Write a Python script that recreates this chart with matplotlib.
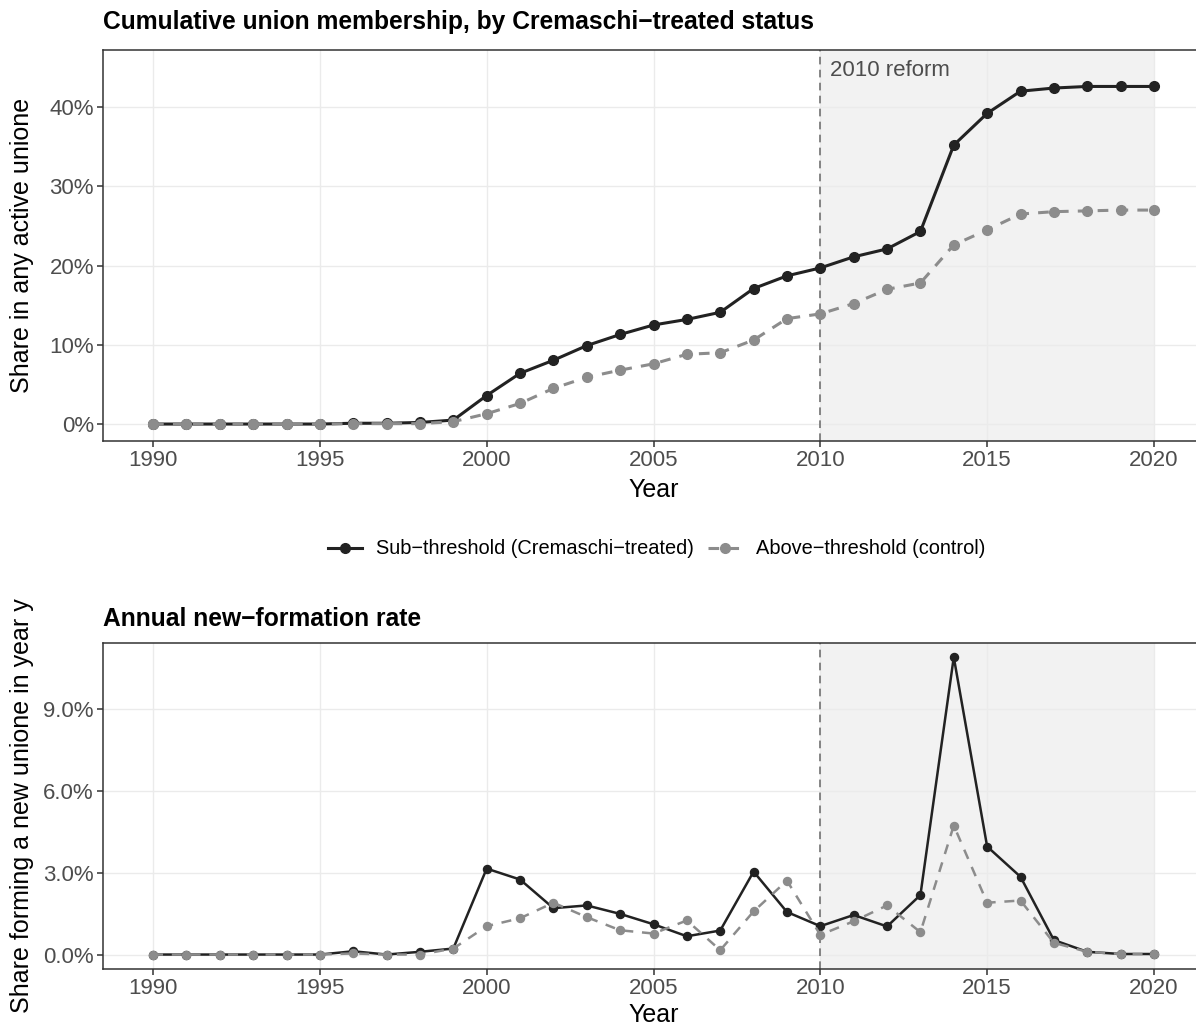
import matplotlib
matplotlib.use("Agg")
import matplotlib.pyplot as plt
from matplotlib.ticker import PercentFormatter
from matplotlib.lines import Line2D

plt.rcParams['font.family'] = ['Liberation Sans', 'DejaVu Sans']

years = list(range(1990, 2021))

# cumulative share in any active unione (%)
cum_treated = [0.0, 0.0, 0.0, 0.0, 0.0, 0.0, 0.1, 0.1, 0.2, 0.5,
               3.6, 6.4, 8.05, 9.9, 11.3, 12.5, 13.2, 14.1, 17.1, 18.7,
               19.7, 21.1, 22.1, 24.3, 35.2, 39.2, 42.0, 42.4, 42.6, 42.6, 42.6]
cum_control = [0.0, 0.0, 0.0, 0.0, 0.0, 0.0, 0.05, 0.05, 0.05, 0.3,
               1.3, 2.6, 4.5, 5.9, 6.8, 7.6, 8.8, 9.0, 10.6, 13.3,
               13.9, 15.2, 17.0, 17.8, 22.6, 24.5, 26.5, 26.8, 26.9, 27.0, 27.0]

# share forming a new unione in year y (%)
new_treated = [0.0, 0.0, 0.0, 0.0, 0.0, 0.0, 0.12, 0.0, 0.1, 0.22,
               3.15, 2.75, 1.7, 1.8, 1.49, 1.11, 0.67, 0.88, 3.04, 1.56,
               1.04, 1.45, 1.03, 2.18, 10.9, 3.96, 2.85, 0.53, 0.1, 0.02, 0.02]
new_control = [0.0, 0.0, 0.0, 0.0, 0.0, 0.0, 0.04, 0.0, 0.0, 0.22,
               1.04, 1.33, 1.9, 1.37, 0.89, 0.77, 1.25, 0.16, 1.58, 2.71,
               0.72, 1.22, 1.8, 0.82, 4.73, 1.9, 1.98, 0.43, 0.1, 0.02, 0.02]

reform_year = 2010
label_treated = "Sub\u2212threshold (Cremaschi\u2212treated)"
label_control = "Above\u2212threshold (control)"

dark = "#222222"
light = "#8c8c8c"
W, H = 1196, 1027

fig = plt.figure(figsize=(W / 100, H / 100), dpi=100)


def panel(top, bottom):
    left, right = 103, 1204
    return fig.add_axes([left / W, 1 - bottom / H, (right - left) / W, (bottom - top) / H])


def style(ax, ylim, ticks, decimals, xlab_y):
    ax.set_xlim(1988.5, 2021.5)
    ax.set_ylim(*ylim)
    ax.set_xticks([1990, 1995, 2000, 2005, 2010, 2015, 2020])
    ax.set_yticks(ticks)
    ax.yaxis.set_major_formatter(PercentFormatter(decimals=decimals))
    ax.grid(True, color="#ebebeb", linewidth=1.0)
    ax.set_axisbelow(True)
    for s in ax.spines.values():
        s.set_color("#333333")
        s.set_linewidth(1.1)
    ax.tick_params(length=4, width=1.1, color="#333333", labelcolor="#4d4d4d",
                   labelsize=16, pad=2.5)
    ax.set_xlabel("Year", fontsize=18)
    ax.xaxis.set_label_coords(0.5, xlab_y)
    ax.xaxis.label.set_va("center")
    ax.axvspan(reform_year, 2020, color="#f2f2f2", zorder=0.2, linewidth=0)
    ax.axvline(reform_year, color="#666666", linestyle=(0, (5, 3.5)), linewidth=1.1, zorder=1)


# top panel: cumulative membership
ax1 = panel(50, 441)
style(ax1, (-2.14, 47.2), [0, 10, 20, 30, 40], 0, -0.125)
ax1.plot(years, cum_treated, color=dark, linewidth=2.2, marker="o", markersize=7, zorder=3)
ax1.plot(years, cum_control, color=light, linewidth=2.2, linestyle=(0, (3.5, 3)),
         marker="o", markersize=7, zorder=4)
ax1.text(reform_year + 0.3, 45.9, "2010 reform", color="#4d4d4d", fontsize=16,
         ha="left", va="top")
ax1.set_ylabel("Share in any active unione", fontsize=18)
ax1.yaxis.set_label_coords(-0.074, 0.5)
ax1.yaxis.label.set_va("center")
fig.text(103 / W, 1 - 22 / H, "Cumulative union membership, by Cremaschi\u2212treated status",
         fontsize=17.7, fontweight="bold", ha="left", va="center")

# bottom panel: annual new-formation rate
ax2 = panel(643, 969)
style(ax2, (-0.53, 11.42), [0, 3, 6, 9], 1, -0.14)
ax2.plot(years, new_treated, color=dark, linewidth=1.8, marker="o", markersize=5.8, zorder=3)
ax2.plot(years, new_control, color=light, linewidth=1.8, linestyle=(0, (4, 3.5)),
         marker="o", markersize=5.8, zorder=4)
ax2.set_ylabel("Share forming a new unione in year y", fontsize=18)
ax2.yaxis.set_label_coords(-0.074, 0.5)
ax2.yaxis.label.set_va("center")
fig.text(103 / W, 1 - 619 / H, "Annual new\u2212formation rate",
         fontsize=17.7, fontweight="bold", ha="left", va="center")

handles = [
    Line2D([], [], color=dark, linewidth=2.2, marker="o", markersize=7),
    Line2D([], [], color=light, linewidth=2.2, linestyle=(0, (3.5, 3)), marker="o", markersize=7),
]
fig.legend(handles, [label_treated, label_control], loc="center",
           bbox_to_anchor=(657 / W, 1 - 549 / H), ncol=2, frameon=False,
           fontsize=14.4, handlelength=1.7, handletextpad=0.7, columnspacing=0.7)

fig.savefig("out.png", dpi=100)
